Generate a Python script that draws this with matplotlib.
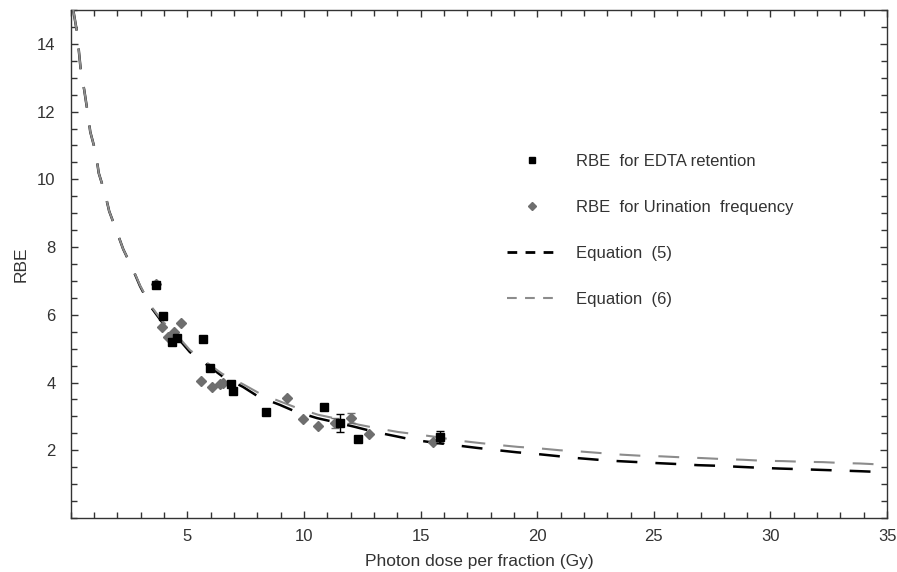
import numpy as np
import matplotlib.pyplot as plt
from matplotlib.lines import Line2D
from matplotlib.ticker import MultipleLocator

plt.rcParams["font.family"] = ["Liberation Sans", "DejaVu Sans"]
plt.rcParams["lines.scale_dashes"] = False

# Equation (5) curve
eq5_dose = [0.11, 0.27, 0.44, 0.58, 0.73, 0.84, 1.08, 1.20, 1.47, 1.65, 1.97, 2.25,
            2.66, 2.97, 3.44, 3.91, 4.60, 5.11, 5.97, 6.49, 7.39, 8.03, 8.97, 9.61,
            10.56, 11.33, 12.19, 13.04, 13.90, 14.67, 15.53, 16.47, 17.42, 18.19,
            19.13, 19.99, 20.84, 21.70, 22.60, 23.46, 24.32, 25.17, 26.12, 26.89,
            27.83, 28.69, 29.63, 30.40, 31.34, 32.20, 33.05, 33.91, 35.0]
eq5_rbe = [15.0, 14.35, 13.17, 12.64, 11.96, 11.40, 10.78, 10.19, 9.59, 9.06, 8.47, 7.94,
           7.35, 6.85, 6.23, 5.79, 5.31, 4.90, 4.46, 4.19, 3.87, 3.59, 3.34, 3.15,
           2.95, 2.83, 2.69, 2.54, 2.42, 2.31, 2.23, 2.15, 2.07, 2.01,
           1.94, 1.89, 1.83, 1.77, 1.72, 1.68, 1.65, 1.62, 1.59, 1.56,
           1.54, 1.51, 1.48, 1.46, 1.44, 1.42, 1.40, 1.38, 1.35]

# Equation (6) curve
eq6_dose = [0.11, 0.27, 0.44, 0.58, 0.73, 0.84, 1.08, 1.20, 1.47, 1.65, 1.97, 2.25,
            2.66, 2.97, 3.44, 3.91, 4.60, 5.11, 5.97, 6.49, 7.39, 8.12, 9.06, 9.70,
            10.60, 11.42, 12.32, 13.13, 14.03, 14.84, 15.70, 16.56, 17.46, 18.27,
            19.17, 20.03, 20.97, 21.74, 22.68, 23.62, 24.40, 25.34, 26.24, 27.06,
            27.96, 28.82, 29.68, 30.54, 31.39, 32.25, 33.19, 33.83, 35.0]
eq6_rbe = [15.0, 14.35, 13.17, 12.64, 11.96, 11.40, 10.78, 10.19, 9.59, 9.06, 8.47, 7.94,
           7.36, 6.87, 6.26, 5.83, 5.36, 4.96, 4.52, 4.26, 3.95, 3.67, 3.42, 3.25,
           3.05, 2.93, 2.76, 2.65, 2.54, 2.47, 2.39, 2.29, 2.22, 2.16,
           2.10, 2.06, 2.00, 1.97, 1.92, 1.87, 1.84, 1.82, 1.79, 1.77,
           1.74, 1.72, 1.69, 1.68, 1.66, 1.65, 1.62, 1.61, 1.57]

# RBE for EDTA retention
edta_dose = [3.66, 3.96, 4.34, 4.56, 5.67, 5.97, 6.87, 6.96, 8.37, 10.86, 11.55, 12.32, 15.83]
edta_rbe = [6.88, 5.96, 5.20, 5.31, 5.28, 4.43, 3.96, 3.75, 3.13, 3.28, 2.80, 2.33, 2.39]
edta_err = [0, 0, 0, 0, 0, 0, 0, 0, 0, 0, 0.27, 0, 0.19]

# RBE for urination frequency
uri_dose = [3.66, 3.91, 4.17, 4.43, 4.73, 5.59, 6.06, 6.40, 6.53, 9.27, 9.96, 10.60,
            11.33, 12.02, 12.79, 15.53]
uri_rbe = [6.91, 5.64, 5.34, 5.49, 5.76, 4.04, 3.87, 3.96, 3.99, 3.54, 2.92, 2.72,
           2.80, 2.95, 2.48, 2.24]
uri_err = [0, 0, 0, 0, 0, 0, 0, 0, 0, 0, 0, 0, 0.15, 0.15, 0, 0]

black = "#000000"
grey_line = "#8c8c8c"
grey_mark = "#6e6e6e"
txt = "#333333"

fig = plt.figure(figsize=(8.97, 5.72), dpi=100)
ax = fig.add_axes([0.0788, 0.0944, 0.9102, 0.8881])

ax.plot(eq5_dose, eq5_rbe, color=black, lw=1.8, ls=(0, (15, 13)), zorder=2)
ax.plot(eq6_dose, eq6_rbe, color=grey_line, lw=1.5, ls=(0, (15, 13)), zorder=3)

ax.errorbar(uri_dose, uri_rbe, yerr=uri_err, fmt="D", ms=5.5, color=grey_mark,
            ecolor=grey_mark, elinewidth=1, capsize=3, zorder=4)
ax.errorbar(edta_dose, edta_rbe, yerr=edta_err, fmt="s", ms=5.5, color=black,
            ecolor=black, elinewidth=1, capsize=3, zorder=5)

ax.set_xlim(0, 35)
ax.set_ylim(0, 15)
ax.set_xticks([5, 10, 15, 20, 25, 30, 35])
ax.set_yticks([2, 4, 6, 8, 10, 12, 14])
ax.xaxis.set_minor_locator(MultipleLocator(1))
ax.yaxis.set_minor_locator(MultipleLocator(0.5))
ax.tick_params(which="both", direction="in", top=True, right=True,
               color=txt, labelcolor=txt, labelsize=12, width=1)
ax.tick_params(which="major", length=5)
ax.tick_params(which="minor", length=4)
ax.tick_params(axis="y", pad=11)
ax.tick_params(axis="x", pad=8)
for s in ax.spines.values():
    s.set_color(txt)
    s.set_linewidth(1)

ax.set_xlabel("Photon dose per fraction (Gy)", fontsize=12.5, color=txt, labelpad=7)
ax.set_ylabel("RBE", fontsize=12.5, color=txt, labelpad=6)

handles = [
    Line2D([], [], ls="none", marker="s", ms=5, color=black),
    Line2D([], [], ls="none", marker="D", ms=4.5, color=grey_mark),
    Line2D([], [], color=black, lw=2, ls=(0, (7, 6))),
    Line2D([], [], color=grey_line, lw=1.5, ls=(0, (7, 6))),
]
labels = ["RBE  for EDTA retention", "RBE  for Urination  frequency",
          "Equation  (5)", "Equation  (6)"]
ax.legend(handles, labels, loc="upper left", bbox_to_anchor=(0.535, 0.716),
          frameon=False, fontsize=12, labelcolor=txt, handlelength=3.0,
          handletextpad=1.1, labelspacing=1.85, borderpad=0, borderaxespad=0)

fig.savefig("out.png", dpi=100)
